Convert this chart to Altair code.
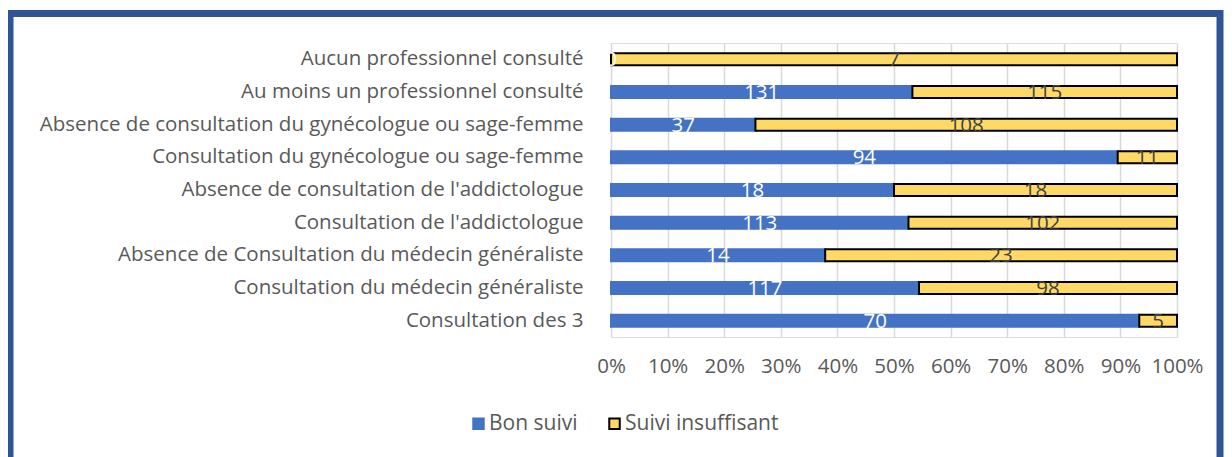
import altair as alt
import pandas as pd

categories = [
    "Aucun professionnel consulté",
    "Au moins un professionnel consulté",
    "Absence de consultation du gynécologue ou sage-femme",
    "Consultation du gynécologue ou sage-femme",
    "Absence de consultation de l'addictologue",
    "Consultation de l'addictologue",
    "Absence de Consultation du médecin généraliste",
    "Consultation du médecin généraliste",
    "Consultation des 3",
]
bon_suivi = [0, 131, 37, 94, 18, 113, 14, 117, 70]
suivi_insuffisant = [7, 115, 108, 11, 18, 102, 23, 98, 5]
series = ["Bon suivi", "Suivi insuffisant"]
x_ticks = [0, 0.1, 0.2, 0.3, 0.4, 0.5, 0.6, 0.7, 0.8, 0.9, 1.0]

rows = []
for c, b, s in zip(categories, bon_suivi, suivi_insuffisant):
    rows.append({"cat": c, "serie": series[0], "value": b, "ord": 0})
    rows.append({"cat": c, "serie": series[1], "value": s, "ord": 1})
df = pd.DataFrame(rows)

FONT = "Open Sans"
BLUE = "#4472C4"
YELLOW = "#FFD966"
TXT = "#595959"
FS = 20.5

base = (
    alt.Chart(df)
    .transform_joinaggregate(total="sum(value)", groupby=["cat"])
    .transform_stack(stack="value", groupby=["cat"], as_=["v0", "v1"],
                     sort=[alt.SortField("ord", order="ascending")])
    .transform_calculate(
        x0="datum.v0 / datum.total",
        x1="datum.v1 / datum.total",
        mid="(datum.v0 + datum.v1) / 2 / datum.total",
        tcolor="datum.ord == 0 ? 'white' : '#404040'",
    )
)

y_enc = alt.Y("cat:N", sort=categories, title=None,
              axis=alt.Axis(labelFontSize=FS, labelColor=TXT, labelFont=FONT,
                            labelLimit=0, labelPadding=28, ticks=False,
                            domain=False, grid=False))

bars = base.mark_bar(size=12, strokeWidth=2).encode(
    x=alt.X("x0:Q", title=None, scale=alt.Scale(domain=[0, 1], nice=False),
            axis=alt.Axis(values=x_ticks, format=".0%", labelFontSize=FS,
                          labelColor=TXT, labelFont=FONT, labelPadding=19,
                          labelOverlap=False, labelFlush=False,
                          ticks=False, domain=False, grid=True,
                          gridColor="#D9D9D9", gridWidth=1.5)),
    x2="x1:Q",
    y=y_enc,
    color=alt.Color("serie:N", scale=alt.Scale(domain=series, range=[BLUE, YELLOW]),
                    title=None,
                    legend=alt.Legend(orient="none", direction="horizontal",
                                      legendX=-143, legendY=370,
                                      labelFontSize=21, labelColor=TXT,
                                      labelFont=FONT, symbolType="square",
                                      symbolSize=110, symbolStrokeWidth=2,
                                      columnPadding=26, labelOffset=0)),
    stroke=alt.Stroke("serie:N", scale=alt.Scale(domain=series, range=[BLUE, "#000000"]),
                      title=None),
)

labels = base.mark_text(fontSize=FS, font=FONT, baseline="middle", dy=1).encode(
    x="mid:Q",
    y=alt.Y("cat:N", sort=categories),
    text="value:Q",
    color=alt.Color("tcolor:N", scale=None),
)

border = alt.Chart(alt.Data(values=[{}])).mark_rect(
    fillOpacity=0, stroke="#2F5597", strokeWidth=7
).encode(
    x=alt.value(-601), x2=alt.value(609),
    y=alt.value(-29.5), y2=alt.value(418),
)

chart = (
    alt.layer(bars, labels, border)
    .properties(width=566, height=294,
                padding={"left": 603, "top": 35, "right": 47, "bottom": 120},
                autosize=alt.AutoSizeParams(type="none"))
    .configure_view(stroke=None)
    .configure(background="white")
)

chart.save("out.html", embed_options={"renderer": "svg", "actions": False})
